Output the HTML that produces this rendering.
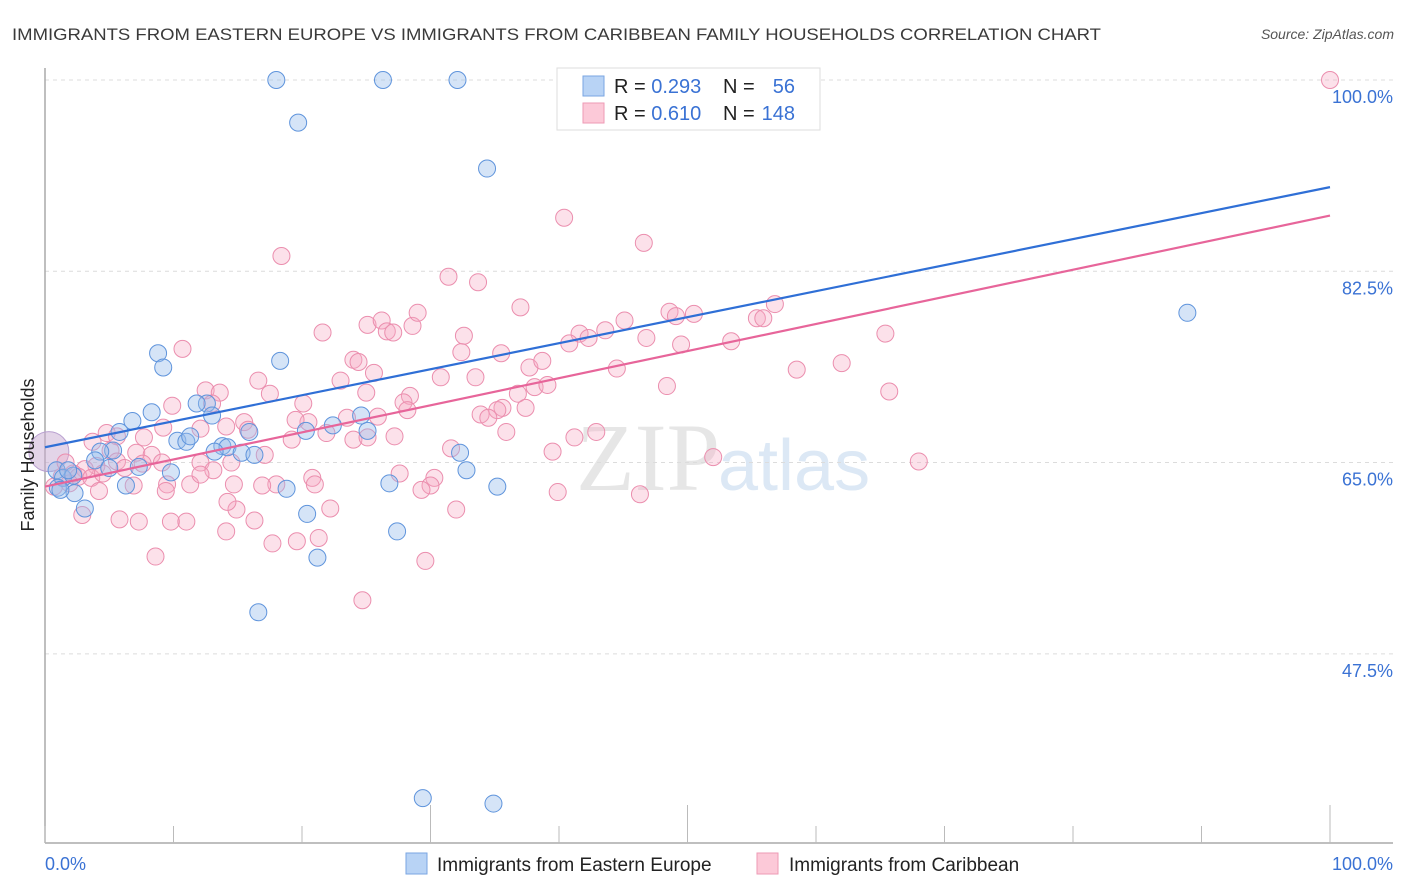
<!DOCTYPE html>
<html><head><meta charset="utf-8"><style>
body{margin:0;background:#fff;font-family:"Liberation Sans",sans-serif}
svg{display:block}
</style></head><body>
<svg id="chart" width="1406" height="892">
<text x="12" y="40" font-size="17" fill="#3a3a3a" textLength="1089" lengthAdjust="spacingAndGlyphs">IMMIGRANTS FROM EASTERN EUROPE VS IMMIGRANTS FROM CARIBBEAN FAMILY HOUSEHOLDS CORRELATION CHART</text>
<text x="1394" y="39" font-size="14" font-style="italic" fill="#555" text-anchor="end">Source: ZipAtlas.com</text>
<text x="720" y="490" font-size="96" fill="#e6e6e6" text-anchor="end" font-family="Liberation Serif,serif">ZIP</text>
<text x="718" y="490" font-size="72" fill="#dce8f5">atlas</text>
<g id="grid"></g><g id="axes"></g><g id="pts"></g><g id="lines"></g>
<text x="34" y="455" font-size="18" fill="#222" text-anchor="middle" transform="rotate(-90 34 455)">Family Households</text>
<g>
<rect x="557" y="68" width="263" height="62" fill="#fff" stroke="#ddd"/>
<rect x="583" y="76" width="21" height="20" fill="#b8d3f5" stroke="#7aa6e2"/>
<rect x="583" y="103" width="21" height="20" fill="#fcc9d8" stroke="#ee9ab5"/>
<text x="614" y="93" font-size="20" fill="#222">R = <tspan fill="#3a72d4">0.293</tspan></text>
<text x="723" y="93" font-size="20" fill="#222">N = </text><text x="795" y="93" font-size="20" fill="#3a72d4" text-anchor="end">56</text>
<text x="614" y="120" font-size="20" fill="#222">R = <tspan fill="#3a72d4">0.610</tspan></text>
<text x="723" y="120" font-size="20" fill="#222">N = </text><text x="795" y="120" font-size="20" fill="#3a72d4" text-anchor="end">148</text>
</g>
<g>
<rect x="406" y="853" width="21" height="21" fill="#b8d3f5" stroke="#7aa6e2"/>
<text x="437" y="871" font-size="19" fill="#222">Immigrants from Eastern Europe</text>
<rect x="757" y="853" width="21" height="21" fill="#fcc9d8" stroke="#ee9ab5"/>
<text x="789" y="871" font-size="19" fill="#222">Immigrants from Caribbean</text>
</g>
</svg>
<script>
const yTicks=[100,82.5,65,47.5];
const xTickVals=[0,10,20,30,40,50,60,70,80,90,100];
const blueX=[18.0,26.3,32.1,19.7,34.4,88.9,8.8,9.2,18.3,8.3,6.8,5.8,12.6,11.8,13.0,10.3,11.0,11.3,13.8,14.2,13.2,15.3,16.3,15.9,20.3,22.4,24.6,25.1,32.3,32.8,35.2,26.8,5.3,4.3,3.9,5.0,7.3,9.8,6.3,0.9,1.4,2.2,1.0,2.3,3.1,20.4,18.8,27.4,21.2,16.6,29.4,34.9,1.8,1.2,47.1,50.1];
const blueY=[100,100,100,96.1,91.9,78.7,75.0,73.7,74.3,69.6,68.8,67.8,70.4,70.4,69.3,67.0,66.9,67.4,66.5,66.4,66.0,65.9,65.7,67.8,67.9,68.4,69.3,67.9,65.9,64.3,62.8,63.1,66.1,66.0,65.2,64.5,64.6,64.1,62.9,64.3,63.6,63.8,62.7,62.2,60.8,60.3,62.6,58.7,56.3,51.3,34.3,33.8,64.3,62.5,100,100];
const pinkX=[100,40.4,46.6,18.4,31.4,33.7,37.0,48.6,50.5,49.1,56.8,55.4,55.9,45.1,65.4,41.6,43.6,42.3,46.8,40.8,49.5,53.4,25.1,26.2,26.6,27.1,28.6,29.0,21.6,32.6,32.4,35.5,37.7,38.7,44.5,58.5,62.0,10.7,24.0,24.4,25.6,30.8,33.5,16.6,17.5,23.0,12.5,13.6,13.0,9.9,25.0,28.4,38.1,39.1,48.4,65.7,36.8,35.6,35.2,37.4,33.9,27.9,28.2,25.9,23.5,20.1,20.5,19.5,15.5,15.8,14.1,12.1,9.2,7.7,4.8,5.6,3.7,7.1,5.1,8.3,5.6,4.0,3.1,2.2,2.6,1.3,3.6,4.5,6.2,7.6,9.1,12.1,13.1,14.5,17.1,19.2,21.9,24.0,25.1,27.2,31.6,34.5,35.9,41.2,42.9,39.5,52.0,68.0,27.6,30.3,30.0,29.3,20.8,21.0,18.0,16.9,14.7,11.3,9.5,6.9,4.2,0.7,9.4,39.9,46.3,32.0,22.2,14.9,14.2,16.3,5.8,7.3,2.9,9.8,11.0,14.1,17.7,19.6,21.3,8.6,29.6,24.7,1.9,1.6,12.1];
const pinkY=[100,87.4,85.1,83.9,82.0,81.5,79.2,78.8,78.6,78.4,79.5,78.2,78.2,78.0,76.8,76.8,77.1,76.4,76.4,75.9,75.8,76.1,77.6,78.0,77.0,76.9,77.5,78.7,76.9,76.6,75.1,75.0,73.7,74.3,73.6,73.5,74.1,75.4,74.4,74.2,73.2,72.8,72.8,72.5,71.3,72.5,71.6,71.4,70.4,70.2,71.4,71.1,71.9,72.1,72.0,71.5,71.3,70.0,69.8,70.0,69.4,70.5,69.8,69.2,69.1,70.4,68.7,68.9,68.7,68.0,68.3,68.1,68.2,67.3,67.7,67.4,66.9,65.9,66.1,65.7,65.1,64.7,64.4,64.0,63.7,63.7,63.6,64.0,64.5,64.9,65.0,65.0,64.3,65.0,65.7,67.1,67.7,67.1,67.3,67.4,66.3,69.1,67.8,67.3,67.8,66.0,65.5,65.1,64.0,63.6,62.9,62.5,63.6,63.0,63.0,62.9,63.0,63.0,63.0,62.9,62.4,62.8,62.4,62.3,62.1,60.7,60.8,60.7,61.4,59.7,59.8,59.6,60.2,59.6,59.6,58.7,57.6,57.8,58.1,56.4,56.0,52.4,63.1,65.0,63.9];
const blueTrend=[66.4,90.2];
const pinkTrend=[62.8,87.6];
const X0=45,X1=1330,Ytop=80,pxPerPct=10.93;
function sx(v){return X0+(X1-X0)*v/100;}
function sy(v){return Ytop+(100-v)*pxPerPct;}
const NS='http://www.w3.org/2000/svg';
function mk(tag,attrs,parent){const e=document.createElementNS(NS,tag);for(const k in attrs)e.setAttribute(k,attrs[k]);parent.appendChild(e);return e;}
const grid=document.getElementById('grid'),axes=document.getElementById('axes'),pts=document.getElementById('pts'),lines=document.getElementById('lines');
yTicks.forEach(t=>{
  const l=mk('line',{x1:45,x2:1393,y1:sy(t),y2:sy(t),stroke:'#dcdcdc','stroke-dasharray':'4,4'},grid);
  
  
  const tx=mk('text',{x:1393,y:sy(t)+23,'font-size':18,fill:'#3a72d4','text-anchor':'end'},grid);
  tx.textContent=t.toFixed(1)+'%';
  
  
});
const ax=mk('line',{x1:45,x2:1393,y1:843,y2:843,stroke:'#aaa','stroke-width':1.5},axes);


const ay=mk('line',{x1:45,x2:45,y1:68,y2:843,stroke:'#aaa','stroke-width':1.5},axes);


xTickVals.forEach((t,i)=>{
  const tall=(t===30||t===50||t===100);
  const tk=mk('line',{x1:sx(t),x2:sx(t),y1:tall?805:826,y2:843,stroke:'#bbb'},axes);
  
  
});
[[0,'start','0.0%',45],[100,'end','100.0%',1393]].forEach(a=>{
  const tx=mk('text',{x:a[3],y:870,'font-size':18,fill:'#3a72d4','text-anchor':a[1]},axes);
  tx.textContent=a[2];
  
  
});
const big1=mk('circle',{cx:sx(0.3),cy:sy(66.0),r:20,fill:'rgba(200,170,210,0.5)',stroke:'#b9a0d0'},pts);


pinkX.forEach((x,i)=>{
  const c=mk('circle',{cx:sx(x),cy:sy(pinkY[i]),r:8.5,fill:'rgba(246,168,194,0.35)',stroke:'#eb8eae','stroke-width':1},pts);
  
  
});
blueX.forEach((x,i)=>{
  const c=mk('circle',{cx:sx(x),cy:sy(blueY[i]),r:8.5,fill:'rgba(150,188,236,0.4)',stroke:'#5f94dc','stroke-width':1},pts);
  
  
});
const bl=mk('line',{x1:sx(0),y1:sy(blueTrend[0]),x2:sx(100),y2:sy(blueTrend[1]),stroke:'#2f6fd6','stroke-width':2.2},lines);


const pl=mk('line',{x1:sx(0),y1:sy(pinkTrend[0]),x2:sx(100),y2:sy(pinkTrend[1]),stroke:'#e7659a','stroke-width':2.2},lines);


</script>
</body></html>
